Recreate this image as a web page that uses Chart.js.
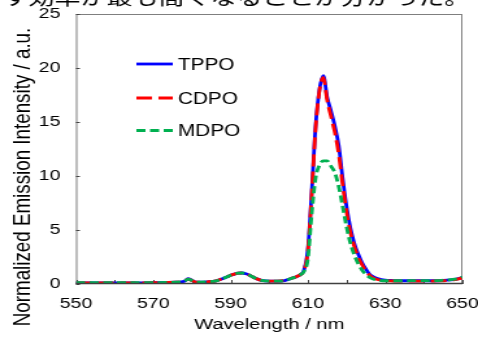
<!DOCTYPE html>
<html><head><meta charset="utf-8">
<script src="https://cdn.jsdelivr.net/npm/chart.js@4/dist/chart.umd.min.js"></script>
<style>
html,body{margin:0;padding:0;background:#fff;overflow:hidden}
#c{display:block;width:478px !important;height:337px !important}
</style></head>
<body>
<canvas id="c" width="368" height="337" style="width:478px;height:337px"></canvas>
<script>
// ---- data ----
const wavelengths = [550,555,560,565,570,574,576,577,578,579,580,581,582,584,586,588,589,590,591,592,593,594,595,596,597,598,599,600,602,604,605,606,607,608,609,610,611,612,613,614,615,616,617,618,619,620,621,622,623,624,625,626,627,628,629,630,632,635,638,640,643,645,647,648,649,650];
const tppo = [0.1,0.1,0.1,0.1,0.12,0.14,0.16,0.18,0.25,0.5,0.35,0.18,0.17,0.2,0.27,0.5,0.65,0.8,0.92,1.0,1.02,0.95,0.8,0.6,0.45,0.34,0.29,0.27,0.26,0.32,0.42,0.55,0.68,0.85,1.3,3.2,8.5,14.6,18.0,19.3,17.3,16.0,14.6,12.8,9.8,7.2,5.2,3.8,2.8,2.0,1.4,0.9,0.65,0.5,0.4,0.35,0.32,0.3,0.3,0.3,0.3,0.33,0.38,0.42,0.5,0.6];
const cdpo = [0.1,0.1,0.1,0.1,0.12,0.14,0.16,0.18,0.24,0.45,0.32,0.18,0.17,0.2,0.27,0.5,0.65,0.8,0.92,1.0,1.02,0.95,0.8,0.6,0.45,0.34,0.29,0.27,0.26,0.32,0.42,0.55,0.68,0.85,1.25,3.0,8.3,14.4,17.9,19.1,17.0,15.5,14.0,12.0,9.2,6.7,4.8,3.5,2.5,1.8,1.2,0.8,0.55,0.42,0.35,0.3,0.28,0.27,0.27,0.27,0.28,0.3,0.35,0.4,0.48,0.58];
const mdpo = [0.12,0.12,0.12,0.12,0.13,0.15,0.17,0.19,0.25,0.45,0.33,0.18,0.18,0.2,0.27,0.5,0.65,0.8,0.92,1.0,1.02,0.95,0.8,0.6,0.45,0.34,0.29,0.27,0.26,0.32,0.42,0.55,0.68,0.85,1.15,2.3,6.5,9.8,11.0,11.4,11.4,10.9,10.3,9.0,7.2,5.3,3.8,2.7,1.9,1.3,0.9,0.6,0.45,0.38,0.32,0.3,0.3,0.3,0.32,0.32,0.32,0.35,0.4,0.45,0.52,0.65];
const seriesNames = ['TPPO','CDPO','MDPO'];
const yTicks = [0,5,10,15,20,25];
const xTickLabels = [550,570,590,610,630,650];
const headerText = 'す効率が最も高くなることが分かった。';
const xTitle = 'Wavelength / nm';
const yTitle = 'Normalized Emission Intensity / a.u.';

const FONT = '"Liberation Sans", Arial, sans-serif';
const pts = arr => wavelengths.map((w,i)=>({x:w,y:arr[i]}));

const decor = {
  id:'decor',
  beforeDraw(chart){
    const c=chart.ctx; c.save(); c.fillStyle='#fff'; c.fillRect(0,0,chart.width,chart.height); c.restore();
  },
  beforeDatasetsDraw(chart){
    const c=chart.ctx, a=chart.chartArea, xs=chart.scales.x, ys=chart.scales.y;
    c.save();
    c.strokeStyle='#7f7f7f'; c.lineWidth=1;
    c.strokeRect(a.left+0.5,a.top+0.5,a.right-a.left-1,a.bottom-a.top-1);
    c.strokeStyle='#444'; c.lineWidth=1;
    xs.ticks.forEach(t=>{const px=Math.round(xs.getPixelForValue(t.value))+0.5;
      c.beginPath(); c.moveTo(px,a.bottom); c.lineTo(px,a.bottom-4); c.stroke();});
    ys.ticks.forEach(t=>{const py=Math.round(ys.getPixelForValue(t.value))+0.5;
      c.beginPath(); c.moveTo(a.left,py); c.lineTo(a.left+3,py); c.stroke();});
    c.restore();
  },
  afterDraw(chart){
    const c=chart.ctx, a=chart.chartArea;
    c.save();
    c.strokeStyle='#404040'; c.lineWidth=1.6;
    c.beginPath(); c.moveTo(a.left,a.bottom-0.5); c.lineTo(a.right,a.bottom-0.5); c.stroke();
    // legend
    const rows=[64,98,130.5];
    chart.data.datasets.forEach((ds,i)=>{
      const y=rows[i];
      c.strokeStyle=ds.borderColor; c.lineWidth=ds.borderWidth; c.setLineDash(ds.borderDash||[]);
      c.beginPath(); c.moveTo(105,y); c.lineTo(133,y); c.stroke();
      c.setLineDash([]);
      c.fillStyle='#000'; c.font='16px '+FONT; c.textAlign='left'; c.textBaseline='alphabetic';
      c.fillText(ds.label,137,y+5.8);
    });
    // titles
    c.fillStyle='#000';
    c.font='15.5px '+FONT; c.textAlign='center'; c.textBaseline='middle';
    c.fillText(xTitle,(a.left+a.right)/2,325);
    c.save(); c.translate(18,177); c.rotate(-Math.PI/2);
    c.font='18.8px '+FONT; c.fillText(yTitle,0,0); c.restore();
    // header (cropped text)
    c.font='20px "Noto Sans CJK JP", sans-serif'; c.textAlign='left'; c.textBaseline='alphabetic';
    c.fillText(headerText,2,5);
    c.restore();
  }
};

new Chart(document.getElementById('c'),{
  type:'line',
  data:{datasets:[
    {label:seriesNames[0],data:pts(tppo),borderColor:'#0000ff',borderWidth:2.8,borderDash:[],order:3},
    {label:seriesNames[1],data:pts(cdpo),borderColor:'#ff0000',borderWidth:2.8,borderDash:[12,5],order:2},
    {label:seriesNames[2],data:pts(mdpo),borderColor:'#00b050',borderWidth:2.8,borderDash:[7,3.5],order:1}
  ]},
  options:{
    responsive:false, animation:false, devicePixelRatio:1,
    layout:{padding:{top:14,right:12,left:0,bottom:0}},
    elements:{point:{radius:0},line:{cubicInterpolationMode:'monotone',fill:false}},
    plugins:{legend:{display:false},tooltip:{enabled:false}},
    scales:{
      x:{type:'linear',min:550,max:650,
        grid:{display:false,drawTicks:false},border:{display:false},
        ticks:{stepSize:10,autoSkip:false,maxRotation:0,padding:11,color:'#000',font:{family:FONT,size:15},
          callback:v=>xTickLabels.includes(v)?String(v):''},
        afterFit:s=>{s.height=53;s.paddingLeft=0;s.paddingRight=0;s.paddingTop=0;s.paddingBottom=0;}},
      y:{type:'linear',min:0,max:25,
        grid:{display:false,drawTicks:false},border:{display:false},
        ticks:{stepSize:5,padding:12,color:'#000',font:{family:FONT,size:15},
          callback:v=>yTicks.includes(v)?String(v):''},
        afterFit:s=>{s.width=58.5;s.paddingLeft=0;s.paddingRight=0;s.paddingTop=0;s.paddingBottom=0;}}
    }
  },
  plugins:[decor]
});
</script>
</body></html>
